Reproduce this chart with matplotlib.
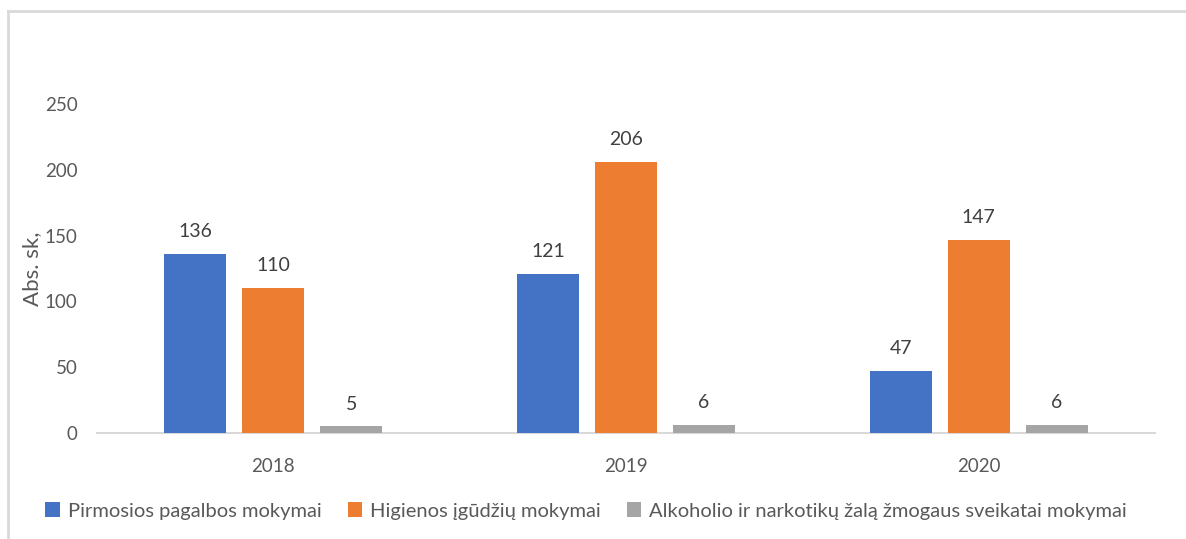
import matplotlib
matplotlib.use("Agg")
import matplotlib.pyplot as plt
import numpy as np
from matplotlib.lines import Line2D

plt.rcParams['font.family'] = ['Lato', 'DejaVu Sans']

years = ["2018", "2019", "2020"]
series_names = ["Pirmosios pagalbos mokymai",
                "Higienos įgūdžių mokymai",
                "Alkoholio ir narkotikų žalą žmogaus sveikatai mokymai"]
pirmosios = [136, 121, 47]
higienos = [110, 206, 147]
alkoholio = [5, 6, 6]
colors = ["#4472C4", "#ED7D31", "#A5A5A5"]
yticks = [0, 50, 100, 150, 200, 250]

W, H = 1186, 539
fig = plt.figure(figsize=(W / 100, H / 100), dpi=100)
ax = fig.add_axes([97 / W, (H - 433) / H, (1155 - 97) / W, (433 - 104) / H])

x = np.arange(len(years))
bw = 0.176
step = 0.221
txt_col = "#595959"
for i, (vals, c, name) in enumerate(zip([pirmosios, higienos, alkoholio], colors, series_names)):
    pos = x + (i - 1) * step
    ax.bar(pos, vals, width=bw, color=c, label=name, zorder=3)
    for p, v in zip(pos, vals):
        ax.annotate(str(v), (p, v), xytext=(0, 10), textcoords="offset points",
                    ha="center", va="bottom", fontsize=14, color="#404040")

ax.set_xlim(-0.5, 2.5)
ax.set_ylim(0, 250)
ax.set_yticks(yticks)
ax.set_xticks(x)
ax.set_xticklabels(years)
ax.tick_params(axis="both", length=0, labelsize=13.5, labelcolor=txt_col)
ax.tick_params(axis="x", pad=18)
ax.tick_params(axis="y", pad=14)
for s in ["top", "right", "left"]:
    ax.spines[s].set_visible(False)
ax.spines["bottom"].set_color("#D9D9D9")
ax.spines["bottom"].set_linewidth(1.5)
ax.set_ylabel("Abs. sk,", fontsize=16, color=txt_col)
ax.yaxis.set_label_coords((42 - 97) / (1155 - 97), 0.5)

fig.legend(loc="center", bbox_to_anchor=(586 / W, 1 - 511 / H), ncol=3, frameon=False,
           fontsize=14.5, labelcolor=txt_col, handlelength=0.7, handleheight=0.7,
           handletextpad=0.4, columnspacing=1.3)

# outer frame (partially visible)
fig.add_artist(Line2D([8 / W, 1], [1 - 11 / H, 1 - 11 / H], transform=fig.transFigure,
                      color="#D9D9D9", lw=2))
fig.add_artist(Line2D([8 / W, 8 / W], [0, 1 - 11 / H], transform=fig.transFigure,
                      color="#D9D9D9", lw=2))

fig.savefig("out.png", dpi=100)
